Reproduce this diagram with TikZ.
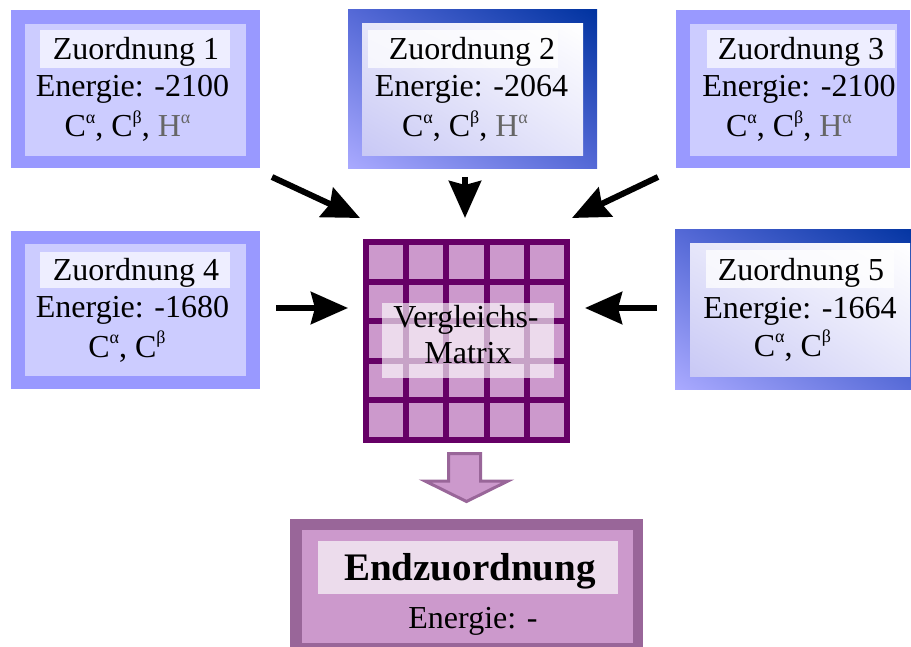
\documentclass[tikz,border=0pt]{standalone}
\usepackage{fontspec}
\setmainfont{Liberation Serif}
\usetikzlibrary{arrows.meta,shadings}

\definecolor{frameblue}{RGB}{153,153,255}
\definecolor{fillblue}{RGB}{204,204,255}
\definecolor{bandblue}{RGB}{238,238,255}
\definecolor{gradlo}{RGB}{170,170,255}
\definecolor{gradmid}{RGB}{85,105,215}
\definecolor{gradhi}{RGB}{0,51,160}
\definecolor{innerlo}{RGB}{200,200,245}
\definecolor{innermid}{RGB}{230,230,250}
\definecolor{cellpink}{RGB}{204,153,204}
\definecolor{gridpurple}{RGB}{102,0,102}
\definecolor{mauve}{RGB}{153,102,153}
\definecolor{bandpink}{RGB}{236,220,236}
\definecolor{greytext}{RGB}{102,102,102}

% raised small Greek index after an atom symbol
\newcommand\gsup[1]{\raisebox{13.5pt}{\fontsize{18}{18}\selectfont #1}}

\tikzset{
  box/.style={rectangle, inner sep=0pt, outer sep=0pt, draw=none},
  flatframe/.style={box, fill=frameblue},
  flatfill/.style={box, fill=fillblue},
  flatband/.style={box, fill=bandblue},
  gradframe/.style={box, shade, lower left=gradlo, upper right=gradhi,
                    upper left=gradmid, lower right=gradmid},
  gradfill/.style={box, shade, lower left=innerlo, upper right=white,
                   upper left=innermid, lower right=innermid},
  gradband/.style={box, fill=white, fill opacity=0.75},
  txt/.style={anchor=base, inner sep=0pt, font=\fontsize{32}{38}\selectfont},
  arr/.style={line width=6pt, -{Stealth[length=37pt,width=32pt,inset=4pt]}},
  grid line/.style={draw=gridpurple, line width=6pt}
}

\begin{document}
\begin{tikzpicture}[x=1pt,y=-1pt]
\useasboundingbox (0,0) rectangle (911,647);
\clip (0,0) rectangle (911,647);

% ---- Zuordnung 1
\node[flatframe, minimum width=249pt, minimum height=158pt] (z1) at (135.5,89) {};
\node[flatfill, minimum width=221pt, minimum height=132pt] (z1in) at (135.5,90) {};
\node[flatband, minimum width=190pt, minimum height=38pt] (z1band) at (135,49) {};
\node[txt] (z1t) at (136,60) {Zuordnung 1};
\node[txt] (z1e) at (132.5,97) {Energie: -2100};
\node[txt] (z1c) at (127.5,137) {C\gsup{α}, C\gsup{β}, \textcolor{greytext}{H\gsup{α}}};

% ---- Zuordnung 2
\node[gradframe, minimum width=249pt, minimum height=159pt] (z2) at (472.5,89.5) {};
\node[gradfill, minimum width=221pt, minimum height=132pt] (z2in) at (472.5,90) {};
\node[gradband, minimum width=190pt, minimum height=38pt] (z2band) at (463,49) {};
\node[txt] (z2t) at (472,60) {Zuordnung 2};
\node[txt] (z2e) at (471.5,97) {Energie: -2064};
\node[txt] (z2c) at (465,137) {C\gsup{α}, C\gsup{β}, \textcolor{greytext}{H\gsup{α}}};

% ---- Zuordnung 3
\node[flatframe, minimum width=234pt, minimum height=158pt] (z3) at (793,89) {};
\node[flatfill, minimum width=207pt, minimum height=132pt] (z3in) at (793.5,90) {};
\node[flatband, minimum width=188pt, minimum height=38pt] (z3band) at (801,49) {};
\node[txt] (z3t) at (801,60) {Zuordnung 3};
\node[txt] (z3e) at (799,97) {Energie: -2100};
\node[txt] (z3c) at (789,137) {C\gsup{α}, C\gsup{β}, \textcolor{greytext}{H\gsup{α}}};

% ---- Zuordnung 4
\node[flatframe, minimum width=249pt, minimum height=158pt] (z4) at (135.5,310) {};
\node[flatfill, minimum width=221pt, minimum height=132pt] (z4in) at (135.5,310) {};
\node[flatband, minimum width=190pt, minimum height=36pt] (z4band) at (135,270) {};
\node[txt] (z4t) at (136,280) {Zuordnung 4};
\node[txt] (z4e) at (132.5,318) {Energie: -1680};
\node[txt] (z4c) at (127,357) {C\gsup{α}, C\gsup{β}};

% ---- Zuordnung 5
\node[gradframe, minimum width=249pt, minimum height=159pt] (z5) at (799.5,309.5) {};
\node[gradfill, minimum width=220pt, minimum height=132pt] (z5in) at (800,310) {};
\node[gradband, minimum width=188pt, minimum height=38pt] (z5band) at (800,269) {};
\node[txt] (z5t) at (801,281) {Zuordnung 5};
\node[txt] (z5e) at (800,319) {Energie: -1664};
\node[txt] (z5c) at (792.5,356) {C\gsup{α}, C\gsup{β}};

% ---- comparison matrix (5 x 5 grid)
\node[box, fill=cellpink, minimum width=207pt, minimum height=204pt] (m) at (466.5,341) {};
\draw[grid line] (366,242) rectangle (567,440);
\foreach \i in {1,...,4} {
  \draw[grid line] ({366+40.2*\i},242) -- ({366+40.2*\i},440);
  \draw[grid line] (366,{242+39.6*\i}) -- (567,{242+39.6*\i});
}
\node[box, fill=white, fill opacity=0.64, minimum width=172pt, minimum height=75pt] (mband) at (468,340.5) {};
\node[txt] (m1) at (466,327) {Vergleichs-};
\node[txt] (m2) at (468,363) {Matrix};

% ---- incoming arrows
\coordinate (t1) at (272,177); \coordinate (h1) at (360,218);
\coordinate (t2) at (465,177); \coordinate (h2) at (465,218);
\coordinate (t3) at (658,177); \coordinate (h3) at (572,218);
\coordinate (t4) at (276,308); \coordinate (h4) at (348,308);
\coordinate (t5) at (657,308); \coordinate (h5) at (585,308);
\foreach \k in {1,...,5} { \draw[arr] (t\k) -- (h\k); }

% ---- block arrow down to the result
\draw[fill=cellpink, draw=mauve, line width=3pt, line join=miter]
  (448.5,453.5) -- (480.5,453.5) -- (480.5,481) -- (508,481)
  -- (466.5,501.5) -- (425,481) -- (448.5,481) -- cycle;

% ---- Endzuordnung
\node[box, fill=mauve, minimum width=353pt, minimum height=136pt] (e) at (466.5,587) {};
\node[box, fill=cellpink, minimum width=331pt, minimum height=113pt] (ein) at (467.5,586.5) {};
\node[box, fill=bandpink, minimum width=300pt, minimum height=53pt] (eband) at (468,567.5) {};
\node[txt, font=\fontsize{39}{44}\selectfont\bfseries] (et) at (470,580) {Endzuordnung};
\node[txt] (ee) at (473,628) {Energie: -};
\end{tikzpicture}
\end{document}
